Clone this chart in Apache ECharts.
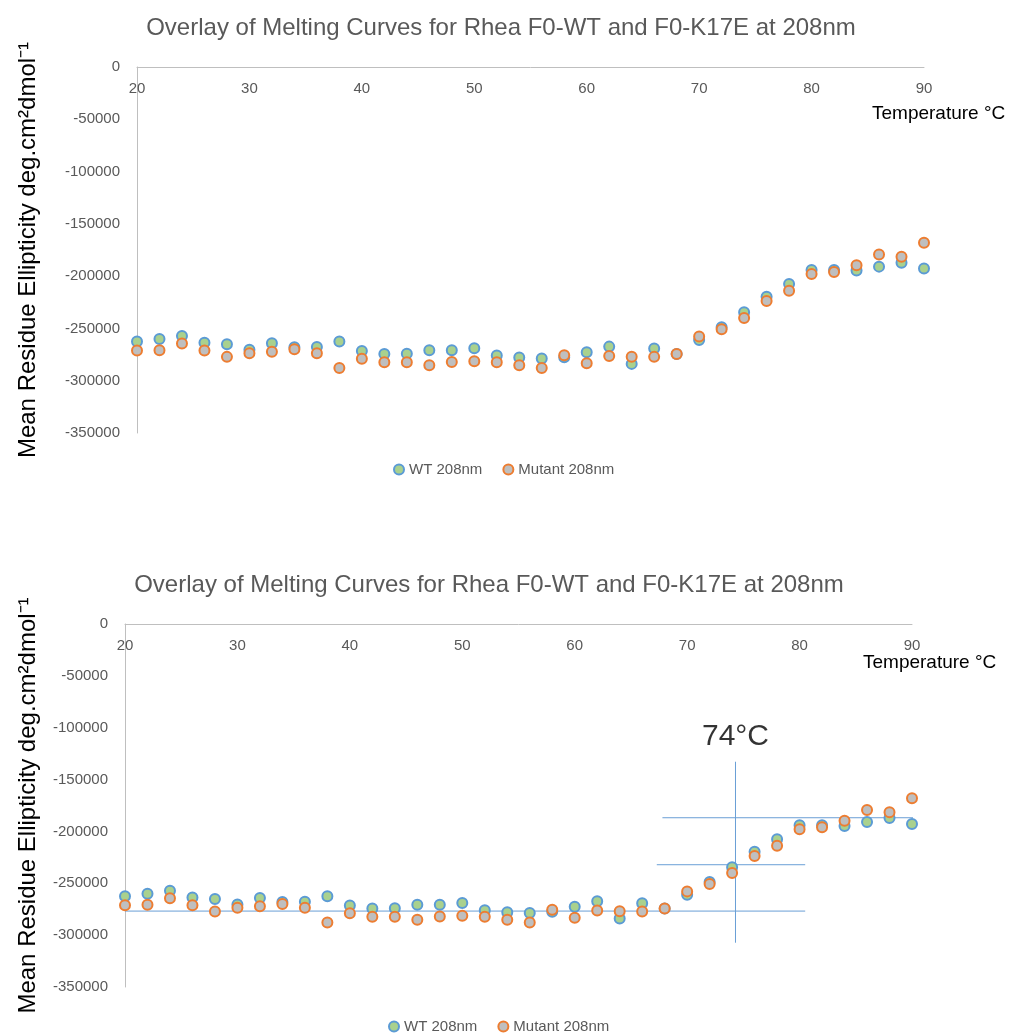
<!DOCTYPE html>
<html>
<head>
<meta charset="utf-8">
<script src="https://cdn.jsdelivr.net/npm/echarts@6/dist/echarts.min.js"></script>
<style>
  html, body { margin: 0; padding: 0; background: #ffffff; }
  #chart { width: 1019px; height: 1033px; }
</style>
</head>
<body>
<div id="chart"></div>
<script>
// ---- Data ----
const titleText = 'Overlay of Melting Curves for Rhea F0-WT and F0-K17E at 208nm';
const seriesNames = ['WT 208nm', 'Mutant 208nm'];
const temperatures = [20, 22, 24, 26, 28, 30, 32, 34, 36, 38, 40, 42, 44, 46, 48, 50, 52, 54,
                      56, 58, 60, 62, 64, 66, 68, 70, 72, 74, 76, 78, 80, 82, 84, 86, 88, 90];
const wtValues = [-262600, -260000, -257200, -263600, -265100, -270500, -264100, -268000, -267700,
                  -262600, -271500, -274400, -274100, -270800, -270800, -268900, -276000, -277900,
                  -278700, -277500, -272700, -267400, -283900, -269300, -274400, -261000, -248800,
                  -234500, -219600, -207500, -194100, -194100, -194700, -190900, -187100, -192800];
const mutantValues = [-271200, -270800, -264500, -271200, -277200, -273700, -272200, -269900, -273700,
                      -287800, -278900, -282300, -282300, -285200, -282000, -281300, -282300, -285200,
                      -287900, -275600, -283300, -276300, -277000, -277200, -274400, -257800, -250800,
                      -240000, -223700, -213900, -197900, -196000, -189600, -179400, -181400, -168000];
const xTicks = [20, 30, 40, 50, 60, 70, 80, 90];
const yTicks = [0, -50000, -100000, -150000, -200000, -250000, -300000, -350000];
// guide lines drawn on the second chart (data coordinates)
const guideLower = [[20, -276800], [80.5, -276800]];
const guideMiddle = [[67.3, -232100], [80.5, -232100]];
const guideUpper = [[67.8, -186800], [91.5, -186800]];
const guideVertical = [[74.3, -132800], [74.3, -307300]];
const meltLabel = [[74.3, -109000]];
const meltLabelText = '74°C';

// ---- Build options ----
const pairs = (xs, ys) => xs.map((x, i) => [x, ys[i]]);
const wtData = pairs(temperatures, wtValues);
const mutData = pairs(temperatures, mutantValues);

const FONT = '"Liberation Sans", Arial, sans-serif';
const GREY = '#595959';
const grids = [
  { left: 137, top: 67, width: 787, height: 366 },
  { left: 125, top: 624, width: 787, height: 363 }
];
const yNameGap = [97, 85];

function xAxisFor(i) {
  return {
    gridIndex: i, type: 'value', position: 'top',
    min: xTicks[0], max: xTicks[xTicks.length - 1], interval: 10,
    axisLine: { show: true, onZero: false, lineStyle: { color: '#BFBFBF', width: 1 } },
    axisTick: { show: false },
    splitLine: { show: false },
    axisLabel: { inside: true, margin: 14, color: GREY, fontSize: 15, fontFamily: FONT }
  };
}
function yAxisFor(i) {
  return {
    gridIndex: i, type: 'value',
    min: yTicks[yTicks.length - 1], max: yTicks[0], interval: 50000,
    axisLine: { show: true, onZero: false, lineStyle: { color: '#BFBFBF', width: 1 } },
    axisTick: { show: false },
    splitLine: { show: false },
    axisLabel: { margin: 17, color: GREY, fontSize: 15, fontFamily: FONT, formatter: v => String(v) },
    name: 'Mean Residue Ellipticity deg.cm²dmol⁻¹',
    nameLocation: 'middle', nameRotate: 90, nameGap: yNameGap[i],
    nameTextStyle: { color: '#000000', fontSize: 24, fontFamily: FONT }
  };
}
function scatterFor(i, name, data, fill, border) {
  return {
    name: name, type: 'scatter', xAxisIndex: i, yAxisIndex: i, data: data,
    symbol: 'circle', symbolSize: 10, z: 3,
    itemStyle: { color: fill, borderColor: border, borderWidth: 2, opacity: 1 }
  };
}
function guideFor(data) {
  return {
    type: 'line', xAxisIndex: 1, yAxisIndex: 1, data: data, clip: false, silent: true,
    symbol: 'none', z: 1, lineStyle: { color: '#6A9FD6', width: 1 }
  };
}

const option = {
  animation: false,
  backgroundColor: '#ffffff',
  title: [
    { text: titleText, left: 501, top: 16, textAlign: 'center', padding: 0,
      textStyle: { color: GREY, fontSize: 24, fontWeight: 'normal', fontFamily: FONT } },
    { text: titleText, left: 489, top: 573, textAlign: 'center', padding: 0,
      textStyle: { color: GREY, fontSize: 24, fontWeight: 'normal', fontFamily: FONT } },
    { text: 'Temperature °C', left: 872, top: 104, padding: 0,
      textStyle: { color: '#000000', fontSize: 19, fontWeight: 'normal', fontFamily: FONT } },
    { text: 'Temperature °C', left: 863, top: 653, padding: 0,
      textStyle: { color: '#000000', fontSize: 19, fontWeight: 'normal', fontFamily: FONT } }
  ],
  legend: [
    { data: seriesNames, left: 388, top: 457, icon: 'circle', itemWidth: 10, itemHeight: 10, itemGap: 20,
      textStyle: { color: GREY, fontSize: 15, fontFamily: FONT } },
    { data: seriesNames, left: 383, top: 1014, icon: 'circle', itemWidth: 10, itemHeight: 10, itemGap: 20,
      textStyle: { color: GREY, fontSize: 15, fontFamily: FONT } }
  ],
  grid: grids,
  xAxis: [xAxisFor(0), xAxisFor(1)],
  yAxis: [yAxisFor(0), yAxisFor(1)],
  series: [
    scatterFor(0, seriesNames[0], wtData, '#A9D18E', '#5B9BD5'),
    scatterFor(0, seriesNames[1], mutData, '#BFBFBF', '#ED7D31'),
    guideFor(guideLower),
    guideFor(guideMiddle),
    guideFor(guideUpper),
    guideFor(guideVertical),
    scatterFor(1, seriesNames[0], wtData, '#A9D18E', '#5B9BD5'),
    scatterFor(1, seriesNames[1], mutData, '#BFBFBF', '#ED7D31'),
    {
      type: 'scatter', xAxisIndex: 1, yAxisIndex: 1, data: meltLabel, symbolSize: 0, silent: true,
      label: { show: true, position: 'inside', formatter: meltLabelText, color: '#000000',
               fontSize: 30, fontFamily: FONT }
    }
  ]
};

const chart = echarts.init(document.getElementById('chart'), null, { renderer: 'canvas' });
chart.setOption(option);
</script>
</body>
</html>
